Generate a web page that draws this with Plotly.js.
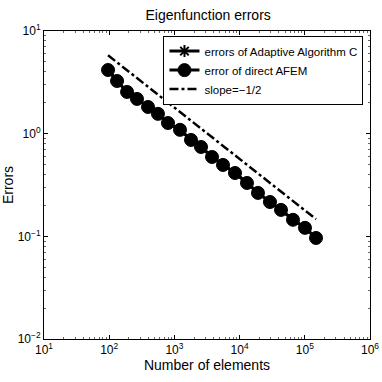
<!DOCTYPE html>
<html>
<head>
<meta charset="utf-8">
<script src="https://cdn.plot.ly/plotly-3.0.1.min.js"></script>
<style>
  html, body { margin: 0; padding: 0; background: #fff; }
  #chart { width: 382px; height: 382px; }
</style>
</head>
<body>
<div id="chart"></div>
<script>
// number of elements per refinement step
var elements = [96, 132, 188, 267, 394, 560, 797, 1219, 1798, 2560,
  3775, 5565, 8500, 12980, 19130, 29240, 43150, 65900, 100700, 148600];

// errors (both curves lie on top of each other)
var errAlgC = [4.17, 3.26, 2.55, 2.18, 1.82, 1.56, 1.27, 1.09, 0.869, 0.742,
  0.593, 0.496, 0.414, 0.331, 0.265, 0.216, 0.181, 0.145, 0.121, 0.0964];
var errDirect = [4.17, 3.26, 2.55, 2.18, 1.82, 1.56, 1.27, 1.09, 0.869, 0.742,
  0.593, 0.496, 0.414, 0.331, 0.265, 0.216, 0.181, 0.145, 0.121, 0.0964];

// reference slope line
var slopeX = [96, 148600];
var slopeY = [5.8, 0.147];

var tickVals = [10, 100, 1000, 10000, 100000, 1000000];
var tickText = ['10<sup>1</sup>', '10<sup>2</sup>', '10<sup>3</sup>', '10<sup>4</sup>', '10<sup>5</sup>', '10<sup>6</sup>'];
var yTickVals = [0.01, 0.1, 1, 10];
var yTickText = ['10<sup>−2</sup>', '10<sup>−1</sup>', '10<sup>0</sup>', '10<sup>1</sup>'];

// minor tick positions 2..9 in every decade
function minorTicks(from, to) {
  var out = [];
  for (var e = from; e < to; e++) {
    for (var m = 2; m <= 9; m++) out.push(m * Math.pow(10, e));
  }
  return out;
}

var trace1 = {
  x: elements,
  y: errAlgC,
  type: 'scatter',
  mode: 'lines+markers',
  name: 'errors of Adaptive Algorithm C',
  line: { color: '#000', width: 3 },
  marker: { symbol: 'asterisk-open', size: 10, line: { color: '#000', width: 2 } }
};

var trace2 = {
  x: elements,
  y: errDirect,
  type: 'scatter',
  mode: 'lines+markers',
  name: 'error of direct AFEM',
  line: { color: '#000', width: 3 },
  marker: { symbol: 'circle', size: 13, color: '#000', line: { color: '#000', width: 1 } }
};

var trace3 = {
  x: slopeX,
  y: slopeY,
  type: 'scatter',
  mode: 'lines',
  name: 'slope=−1/2',
  line: { color: '#000', width: 2.5, dash: 'dashdot' }
};

var baseFont = 'Liberation Sans, Arial, sans-serif';

var layout = {
  width: 382,
  height: 382,
  margin: { l: 44, r: 12, t: 31, b: 43 },
  paper_bgcolor: '#fff',
  plot_bgcolor: '#fff',
  font: { family: baseFont, size: 12, color: '#000' },
  showlegend: true,
  title: {
    text: 'Eigenfunction errors',
    font: { family: baseFont, size: 14, color: '#000' },
    x: 0.545, xanchor: 'center', y: 0.96, yanchor: 'middle'
  },
  xaxis: {
    type: 'log',
    range: [1, 6],
    tickvals: tickVals,
    ticktext: tickText,
    ticks: 'inside',
    ticklen: 4,
    tickcolor: '#000',
    showgrid: false,
    zeroline: false,
    showline: true,
    linecolor: '#000',
    linewidth: 1,
    mirror: 'ticks',
    tickfont: { size: 12 },
    minor: { tickmode: 'array', tickvals: minorTicks(1, 6), ticks: 'inside', ticklen: 2, tickcolor: '#666', showgrid: false },
    title: { text: 'Number of elements', font: { size: 14 }, standoff: 3 }
  },
  yaxis: {
    type: 'log',
    range: [-2, 1],
    tickvals: yTickVals,
    ticktext: yTickText,
    ticks: 'inside',
    ticklen: 4,
    tickcolor: '#000',
    showgrid: false,
    zeroline: false,
    showline: true,
    linecolor: '#000',
    linewidth: 1,
    mirror: 'ticks',
    tickfont: { size: 12 },
    minor: { tickmode: 'array', tickvals: minorTicks(-2, 1), ticks: 'inside', ticklen: 2, tickcolor: '#666', showgrid: false },
    title: { text: 'Errors', font: { size: 14 }, standoff: 6 }
  },
  legend: {
    x: 0.98, y: 0.985, xanchor: 'right', yanchor: 'top',
    bgcolor: '#fff',
    bordercolor: '#000',
    borderwidth: 1,
    font: { family: baseFont, size: 11.5, color: '#000' },
    tracegroupgap: 0,
    itemwidth: 30
  }
};

Plotly.newPlot('chart', [trace1, trace2, trace3], layout, { displayModeBar: false, staticPlot: true });
</script>
</body>
</html>
